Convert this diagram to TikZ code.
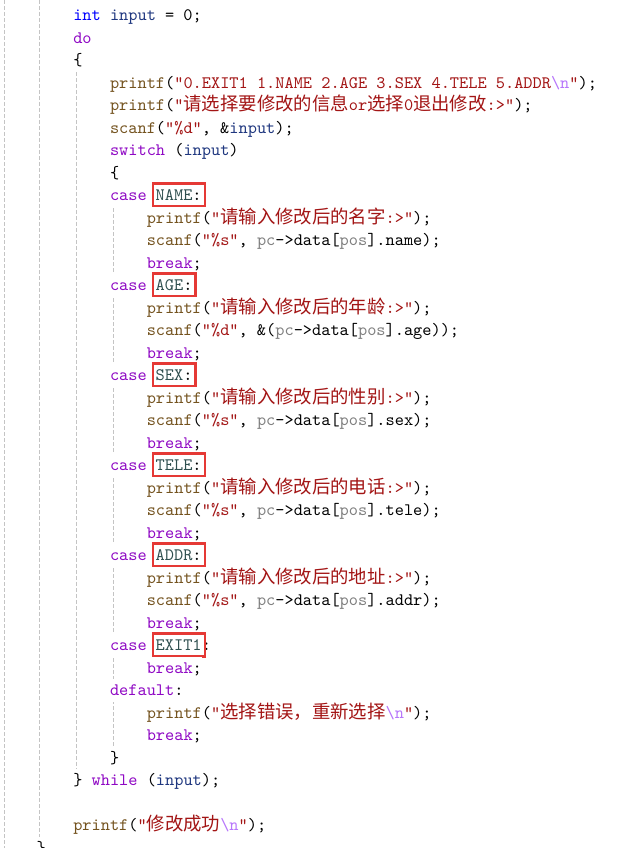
\documentclass[tikz,border=0pt]{standalone}
\usepackage{fontspec}
\usetikzlibrary{backgrounds}
\newfontfamily\codefont{lmmono10-regular.otf}
\newfontfamily\cjkfont{Noto Sans CJK SC}[Scale=1.05]
\definecolor{kwtype}{HTML}{0000FF}
\definecolor{kwctrl}{HTML}{8F08C4}
\definecolor{fncol}{HTML}{74531F}
\definecolor{strcol}{HTML}{A31515}
\definecolor{esccol}{HTML}{B776FB}
\definecolor{prmcol}{HTML}{808080}
\definecolor{enmcol}{HTML}{2F4F4F}
\definecolor{lclcol}{HTML}{1F377F}
\definecolor{guidecol}{HTML}{C4C4C4}
\definecolor{boxred}{HTML}{E53935}
\newcommand\kwt[1]{\textcolor{kwtype}{#1}}
\newcommand\kwc[1]{\textcolor{kwctrl}{#1}}
\newcommand\fnc[1]{\textcolor{fncol}{#1}}
\newcommand\strc[1]{\textcolor{strcol}{#1}}
\newcommand\escc[1]{\textcolor{esccol}{#1}}
\newcommand\prmc[1]{\textcolor{prmcol}{#1}}
\newcommand\enmc[1]{\textcolor{enmcol}{#1}}
\newcommand\lclc[1]{\textcolor{lclcol}{#1}}
\newcommand\bsn{\escc{\textbackslash n}}
% indent level, baseline of a line, column inside a level
\newcommand\lv[1]{36.3+36.75*#1}
\newcommand\bl[1]{20.7+22.5*#1}
\newcommand\cx[2]{36.3+36.75*#1+9.1875*#2}
\begin{document}
\begin{tikzpicture}[
    x=1pt, y=-1pt,
    code/.style={anchor=base west, inner sep=0pt, fill=white, text height=16.5pt, text depth=6pt,
      font=\codefont\fontsize{17.5pt}{22.5pt}\selectfont\frenchspacing},
    hl/.style={anchor=base west, draw=boxred, line width=2.3pt, outer sep=0pt, inner xsep=3pt, inner ysep=0pt,
      text height=17.3pt, text depth=5.8pt, xshift=-3pt,
      font=\codefont\fontsize{17.5pt}{22.5pt}\selectfont}, % red frame round a case label
    guide/.style={draw=guidecol, line width=0.9pt, dash pattern=on 4pt off 2pt}
    ]
    \useasboundingbox (0,0) rectangle (622,848);
    \coordinate (gtop) at (0,0);
    \node[code] (l0) at ({\lv{1}},{\bl{0}}) {\kwt{int} \lclc{input} = 0;};
    \node[code] (l1) at ({\lv{1}},{\bl{1}}) {\kwc{do}};
    \node[code] (l2) at ({\lv{1}},{\bl{2}}) {\{};
    \node[code] (l3) at ({\lv{2}},{\bl{3}}) {\fnc{printf}(\strc{"0.EXIT1 1.NAME 2.AGE 3.SEX 4.TELE 5.ADDR\bsn"});};
    \node[code] (l4) at ({\lv{2}},{\bl{4}}) {\fnc{printf}(\strc{"{\cjkfont 请选择要修改的信息}or{\cjkfont 选择}0{\cjkfont 退出修改}:>"});};
    \node[code] (l5) at ({\lv{2}},{\bl{5}}) {\fnc{scanf}(\strc{"\%d"}, \&\lclc{input});};
    \node[code] (l6) at ({\lv{2}},{\bl{6}}) {\kwc{switch} (\lclc{input})};
    \node[code] (l7) at ({\lv{2}},{\bl{7}}) {\{};
    % case NAME
    \node[code] (l8) at ({\lv{2}},{\bl{8}}) {\kwc{case}};
    \node[hl] (bxName) at ({\cx{2}{5}},{\bl{8}}) {\enmc{NAME}:};
    \node[code] (l9) at ({\lv{3}},{\bl{9}}) {\fnc{printf}(\strc{"{\cjkfont 请输入修改后的名字}:>"});};
    \node[code] (l10) at ({\lv{3}},{\bl{10}}) {\fnc{scanf}(\strc{"\%s"}, \prmc{pc}->data[\prmc{pos}].name);};
    \node[code] (l11) at ({\lv{3}},{\bl{11}}) {\kwc{break};};
    % case AGE
    \node[code] (l12) at ({\lv{2}},{\bl{12}}) {\kwc{case}};
    \node[hl] (bxAge) at ({\cx{2}{5}},{\bl{12}}) {\enmc{AGE}:};
    \node[code] (l13) at ({\lv{3}},{\bl{13}}) {\fnc{printf}(\strc{"{\cjkfont 请输入修改后的年龄}:>"});};
    \node[code] (l14) at ({\lv{3}},{\bl{14}}) {\fnc{scanf}(\strc{"\%d"}, \&(\prmc{pc}->data[\prmc{pos}].age));};
    \node[code] (l15) at ({\lv{3}},{\bl{15}}) {\kwc{break};};
    % case SEX
    \node[code] (l16) at ({\lv{2}},{\bl{16}}) {\kwc{case}};
    \node[hl] (bxSex) at ({\cx{2}{5}},{\bl{16}}) {\enmc{SEX}:};
    \node[code] (l17) at ({\lv{3}},{\bl{17}}) {\fnc{printf}(\strc{"{\cjkfont 请输入修改后的性别}:>"});};
    \node[code] (l18) at ({\lv{3}},{\bl{18}}) {\fnc{scanf}(\strc{"\%s"}, \prmc{pc}->data[\prmc{pos}].sex);};
    \node[code] (l19) at ({\lv{3}},{\bl{19}}) {\kwc{break};};
    % case TELE
    \node[code] (l20) at ({\lv{2}},{\bl{20}}) {\kwc{case}};
    \node[hl] (bxTele) at ({\cx{2}{5}},{\bl{20}}) {\enmc{TELE}:};
    \node[code] (l21) at ({\lv{3}},{\bl{21}}) {\fnc{printf}(\strc{"{\cjkfont 请输入修改后的电话}:>"});};
    \node[code] (l22) at ({\lv{3}},{\bl{22}}) {\fnc{scanf}(\strc{"\%s"}, \prmc{pc}->data[\prmc{pos}].tele);};
    \node[code] (l23) at ({\lv{3}},{\bl{23}}) {\kwc{break};};
    % case ADDR
    \node[code] (l24) at ({\lv{2}},{\bl{24}}) {\kwc{case}};
    \node[hl] (bxAddr) at ({\cx{2}{5}},{\bl{24}}) {\enmc{ADDR}:};
    \node[code] (l25) at ({\lv{3}},{\bl{25}}) {\fnc{printf}(\strc{"{\cjkfont 请输入修改后的地址}:>"});};
    \node[code] (l26) at ({\lv{3}},{\bl{26}}) {\fnc{scanf}(\strc{"\%s"}, \prmc{pc}->data[\prmc{pos}].addr);};
    \node[code] (l27) at ({\lv{3}},{\bl{27}}) {\kwc{break};};
    % case EXIT1
    \node[code] (l28) at ({\lv{2}},{\bl{28}}) {\kwc{case}};
    \node[code, fill=none] (l28c) at ({\cx{2}{10}},{\bl{28}}) {:};
    \node[hl] (bxExit) at ({\cx{2}{5}},{\bl{28}}) {\enmc{EXIT1}};
    \node[code] (l29) at ({\lv{3}},{\bl{29}}) {\kwc{break};};
    \node[code] (l30) at ({\lv{2}},{\bl{30}}) {\kwc{default}:};
    \node[code] (l31) at ({\lv{3}},{\bl{31}}) {\fnc{printf}(\strc{"{\cjkfont 选择错误，重新选择}\bsn"});};
    \node[code] (l32) at ({\lv{3}},{\bl{32}}) {\kwc{break};};
    \node[code] (l33) at ({\lv{2}},{\bl{33}}) {\}};
    \node[code] (l34) at ({\lv{1}},{\bl{34}}) {\} \kwc{while} (\lclc{input});};
    \node[code] (l36) at ({\lv{1}},{\bl{36}}) {\fnc{printf}(\strc{"{\cjkfont 修改成功}\bsn"});};
    \node[code] (l37) at ({\lv{0}},{\bl{37}}) {\}};
    % indent guides
    \begin{scope}[on background layer]
      \draw[guide] (4,0) -- (4,848);
      \draw[guide] ([xshift=3.5pt]l37.north west |- gtop) -- ([xshift=3.5pt]l37.north west);
      \draw[guide] ([xshift=3.5pt]l2.south west) -- ([xshift=3.5pt]l34.north west);
      \draw[guide] ([xshift=3.5pt]l7.south west) -- ([xshift=3.5pt]l33.north west);
    \end{scope}
\end{tikzpicture}
\end{document}
